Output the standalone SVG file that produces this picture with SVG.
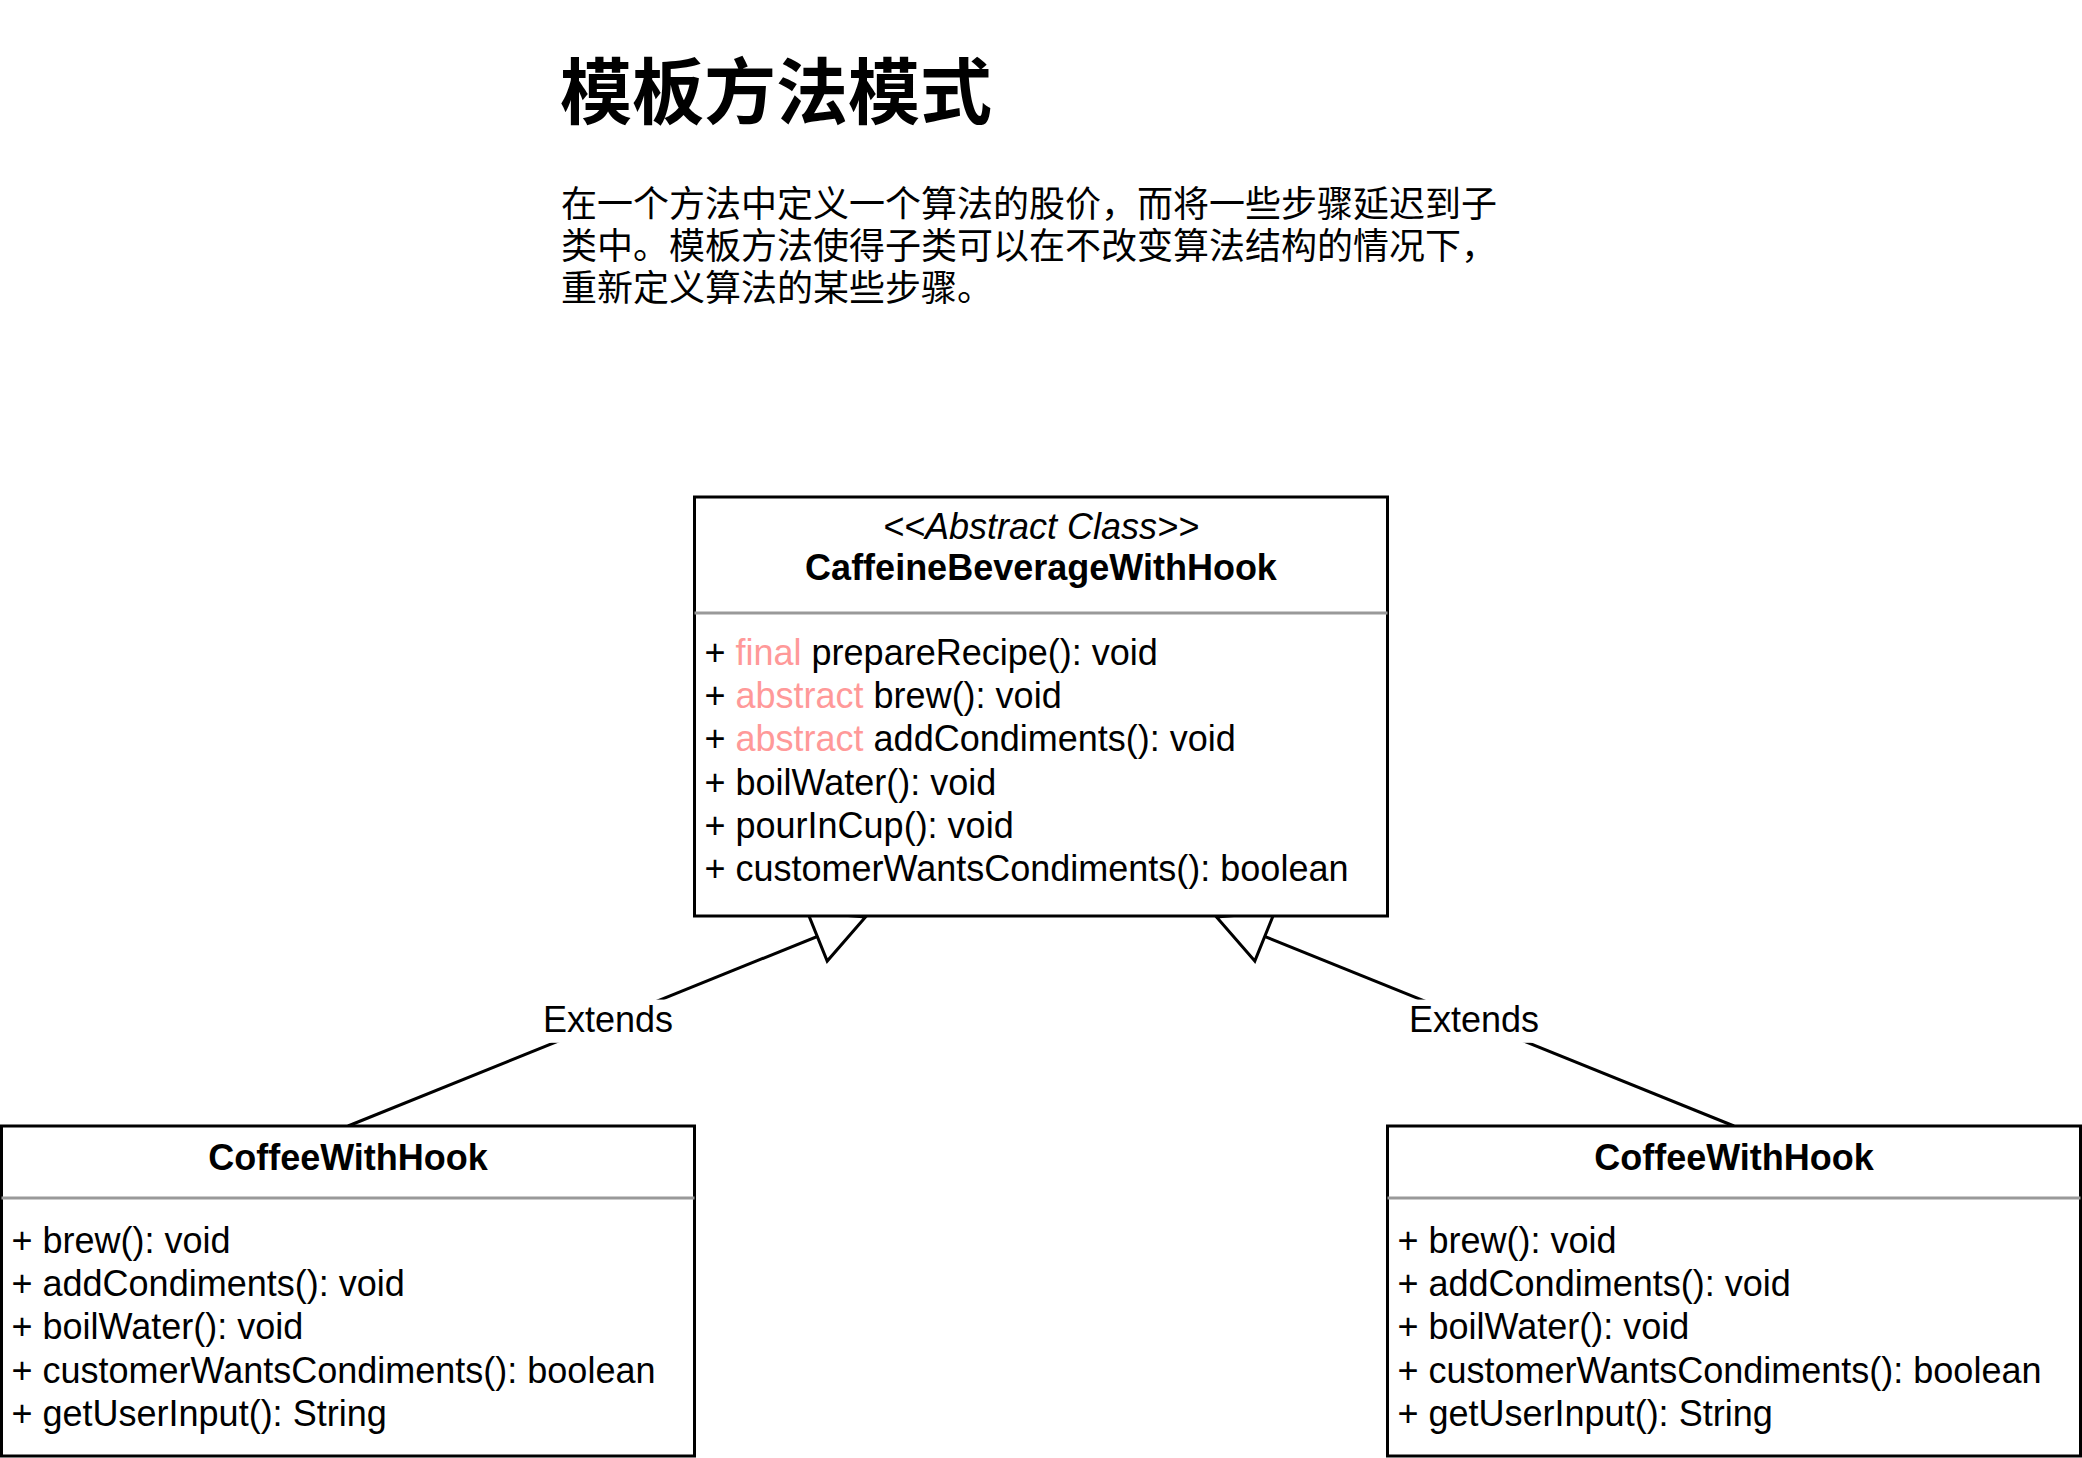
<svg xmlns="http://www.w3.org/2000/svg" width="2082" height="1458" viewBox="0 0 2082 1458">
<defs>
<style>
text{font-family:"Liberation Sans","Noto Sans CJK SC",sans-serif;font-size:36px;fill:#000}
.cjk{font-family:"Noto Sans CJK SC","Liberation Sans",sans-serif}
.h1{font-size:72px;font-weight:bold}
.box{fill:#fff;stroke:#000;stroke-width:3}
.sep{stroke:#999;stroke-width:3;fill:none}
.ttl{font-weight:bold;text-anchor:middle}
.st{font-style:italic;text-anchor:middle}
.kw{fill:#FF9999}
.edge{stroke:#000;stroke-width:3;fill:none}
.lblbg{fill:#fff;stroke:none}
.lbl{text-anchor:middle}
</style>
<marker id="inherit" markerUnits="userSpaceOnUse" markerWidth="64" markerHeight="64" refX="54" refY="32" orient="auto" overflow="visible">
<path d="M2,5.5 L54,32 L2,58.5 Z" fill="#fff" stroke="#000" stroke-width="3" stroke-linejoin="miter"/>
</marker>
</defs>
<rect width="2082" height="1458" fill="#fff"/>

<g id="title">
<text class="cjk h1" x="560" y="118">模板方法模式</text>
</g>
<g id="description">
<text class="cjk"><tspan x="561" y="217">在一个方法中定义一个算法的股价，而将一些步骤延迟到子</tspan><tspan x="561" y="259">类中。模板方法使得子类可以在不改变算法结构的情况下，</tspan><tspan x="561" y="301">重新定义算法的某些步骤。</tspan></text>
</g>

<g id="connectors">
<path class="edge" d="M348,1126 L865.5,917" marker-end="url(#inherit)"/>
<path class="edge" d="M1734,1126 L1216.5,917" marker-end="url(#inherit)"/>
<rect class="lblbg" x="543" y="999.6" width="130" height="43.2"/>
<text class="lbl" x="608" y="1031.7">Extends</text>
<rect class="lblbg" x="1409" y="999.6" width="130" height="43.2"/>
<text class="lbl" x="1474" y="1031.7">Extends</text>
</g>

<g id="CaffeineBeverageWithHook">
<rect class="box" x="694.5" y="497" width="693" height="419"/>
<text class="st" x="1041" y="539">&lt;&lt;Abstract Class&gt;&gt;</text>
<text class="ttl" x="1041" y="580">CaffeineBeverageWithHook</text>
<line class="sep" x1="694.5" y1="613" x2="1387.5" y2="613"/>
<text x="704.5" y="665">+ <tspan class="kw">final</tspan> prepareRecipe(): void</text>
<text x="704.5" y="708.2">+ <tspan class="kw">abstract</tspan> brew(): void</text>
<text x="704.5" y="751.4">+ <tspan class="kw">abstract</tspan> addCondiments(): void</text>
<text x="704.5" y="794.6">+ boilWater(): void</text>
<text x="704.5" y="837.8">+ pourInCup(): void</text>
<text x="704.5" y="881">+ customerWantsCondiments(): boolean</text>
</g>

<g id="CoffeeWithHook-left">
<rect class="box" x="1.5" y="1126" width="693" height="330"/>
<text class="ttl" x="348" y="1170">CoffeeWithHook</text>
<line class="sep" x1="1.5" y1="1198" x2="694.5" y2="1198"/>
<text x="11.5" y="1253">+ brew(): void</text>
<text x="11.5" y="1296.2">+ addCondiments(): void</text>
<text x="11.5" y="1339.4">+ boilWater(): void</text>
<text x="11.5" y="1382.6">+ customerWantsCondiments(): boolean</text>
<text x="11.5" y="1425.8">+ getUserInput(): String</text>
</g>

<g id="CoffeeWithHook-right">
<rect class="box" x="1387.5" y="1126" width="693" height="330"/>
<text class="ttl" x="1734" y="1170">CoffeeWithHook</text>
<line class="sep" x1="1387.5" y1="1198" x2="2080.5" y2="1198"/>
<text x="1397.5" y="1253">+ brew(): void</text>
<text x="1397.5" y="1296.2">+ addCondiments(): void</text>
<text x="1397.5" y="1339.4">+ boilWater(): void</text>
<text x="1397.5" y="1382.6">+ customerWantsCondiments(): boolean</text>
<text x="1397.5" y="1425.8">+ getUserInput(): String</text>
</g>
</svg>
